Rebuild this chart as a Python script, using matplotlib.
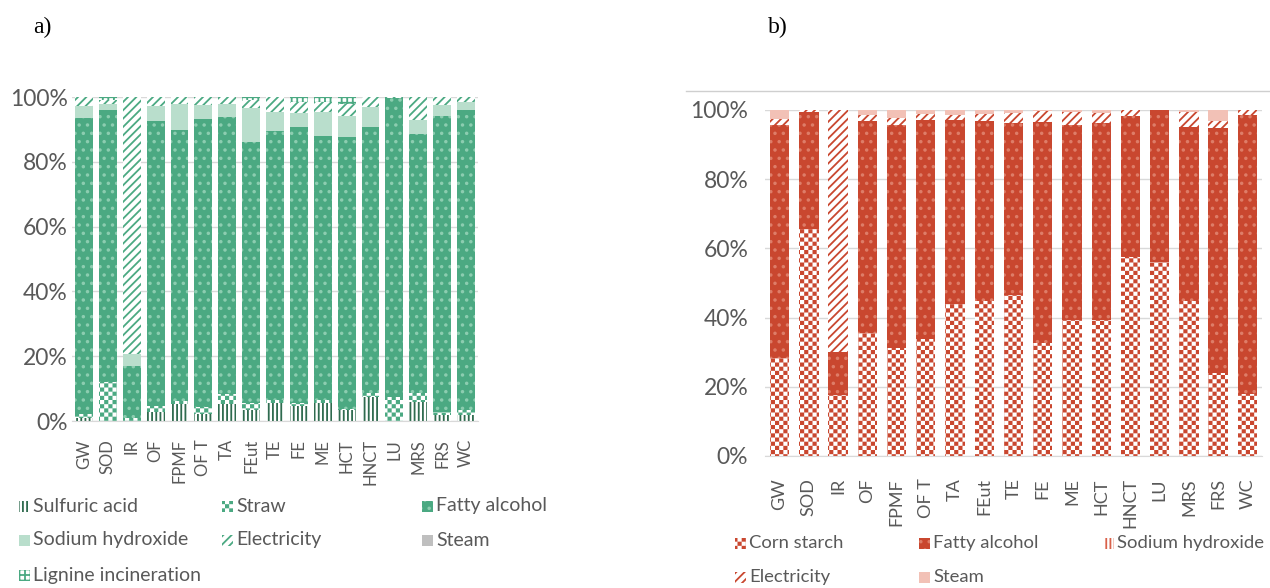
import numpy as np
import matplotlib
matplotlib.use("Agg")
import matplotlib.pyplot as plt
import matplotlib.hatch as mhatch
from matplotlib.path import Path
from matplotlib.patches import Rectangle
from matplotlib.lines import Line2D

# ---------------- data ----------------
categories = ["GW", "SOD", "IR", "OF", "FPMF", "OF T", "TA", "FEut", "TE",
              "FE", "ME", "HCT", "HNCT", "LU", "MRS", "FRS", "WC"]
ytick_values = [0, 20, 40, 60, 80, 100]
ytick_labels = ["0%", "20%", "40%", "60%", "80%", "100%"]

# panel a) (percent shares, bottom to top)
a_sulfuric = [1.0, 0, 0, 2.8, 5.3, 2.3, 5.3, 3.3, 5.5, 4.5, 5.5, 3.3, 7.4, 0, 5.8, 2.0, 1.7]
a_straw = [1.3, 12.0, 1.0, 1.7, 0.9, 2.0, 2.9, 2.2, 0.9, 1.0, 1.0, 0.5, 1.2, 7.4, 2.8, 0.8, 1.6]
a_fatty = [91.2, 84.1, 16.1, 88.0, 83.5, 88.9, 85.7, 80.7, 83.1, 85.3, 81.4, 83.8, 82.2, 92.3, 80.0, 91.3, 92.8]
a_naoh = [3.8, 1.6, 3.6, 4.6, 8.0, 4.3, 4.0, 10.4, 5.8, 4.3, 7.4, 6.6, 6.0, 0, 4.4, 3.3, 2.4]
a_electricity = [2.7, 1.3, 79.3, 2.9, 2.3, 2.5, 2.1, 2.4, 4.7, 3.4, 3.1, 3.5, 3.2, 0.3, 7.0, 2.6, 1.5]
a_steam = [0] * 17
a_lignine = [0, 1.0, 0, 0, 0, 0, 0, 1.0, 0, 1.5, 1.6, 2.3, 0, 0, 0, 0, 0]

# panel b)
b_corn = [28.3, 65.7, 17.7, 35.5, 31.2, 33.8, 43.8, 44.9, 46.4, 32.6, 39.4, 39.4, 57.6, 56.0, 44.9, 23.9, 17.9]
b_fatty = [67.4, 33.8, 12.4, 61.4, 64.5, 63.3, 53.3, 51.9, 49.7, 63.8, 56.4, 56.7, 40.8, 44.0, 50.1, 70.8, 80.7]
b_naoh = [0] * 17
b_electricity = [1.7, 0.5, 69.9, 1.7, 2.1, 1.6, 1.5, 2.0, 2.9, 3.3, 3.7, 2.9, 1.6, 0, 4.5, 2.1, 1.4]
b_steam = [2.6, 0, 0, 1.4, 2.2, 1.3, 1.4, 1.2, 1.0, 0.3, 0.5, 1.0, 0, 0, 0.5, 3.2, 0]

# ---------------- custom checker hatch (uses 'O') ----------------
HATCH_LW = 1.3
plt.rcParams["hatch.linewidth"] = HATCH_LW


class CheckerHatch(mhatch.HatchPatternBase):
    def __init__(self, hatch, density):
        n = hatch.count("O") * density
        if n % 2:
            n += 1
        self.n = n
        self.cells = [(i, j) for i in range(n) for j in range(n) if (i + j) % 2 == 0] if n else []
        self.num_vertices = 5 * len(self.cells)

    def set_vertices_and_codes(self, vertices, codes):
        s = 1.0 / self.n
        inset = HATCH_LW / 72.0 / 2.0
        k = 0
        for i, j in self.cells:
            x0, y0 = i * s + inset, j * s + inset
            x1, y1 = (i + 1) * s - inset, (j + 1) * s - inset
            vertices[k:k + 5] = [(x0, y0), (x1, y0), (x1, y1), (x0, y1), (x0, y0)]
            codes[k:k + 5] = [Path.MOVETO, Path.LINETO, Path.LINETO, Path.LINETO, Path.CLOSEPOLY]
            k += 5


mhatch._hatch_types = [t for t in mhatch._hatch_types if t is not mhatch.LargeCircles] + [CheckerHatch]

# ---------------- styles ----------------
GREEN = "#4BA982"
RED = "#C9472F"
TXT = "#595959"
GRID = "#D9D9D9"

a_series = [
    ("Sulfuric acid", a_sulfuric, dict(facecolor="white", edgecolor="#2F6B4F", hatch="||||")),
    ("Straw", a_straw, dict(facecolor="white", edgecolor=GREEN, hatch="OOOO")),
    ("Fatty alcohol", a_fatty, dict(facecolor=GREEN, edgecolor="#8CCDB0", hatch="..")),
    ("Sodium hydroxide", a_naoh, dict(facecolor="#B9DECC", edgecolor="#B9DECC", hatch=None)),
    ("Electricity", a_electricity, dict(facecolor="white", edgecolor=GREEN, hatch="////")),
    ("Steam", a_steam, dict(facecolor="#BFBFBF", edgecolor="#BFBFBF", hatch=None)),
    ("Lignine incineration", a_lignine, dict(facecolor="white", edgecolor=GREEN, hatch="+++")),
]
b_series = [
    ("Corn starch", b_corn, dict(facecolor="white", edgecolor=RED, hatch="OOOO")),
    ("Fatty alcohol", b_fatty, dict(facecolor=RED, edgecolor="#DE7D68", hatch="..")),
    ("Sodium hydroxide", b_naoh, dict(facecolor="white", edgecolor="#D9614A", hatch="||||")),
    ("Electricity", b_electricity, dict(facecolor="white", edgecolor=RED, hatch="////")),
    ("Steam", b_steam, dict(facecolor="#F2C1B6", edgecolor="#F2C1B6", hatch=None)),
]

W, H = 1270, 588
fig = plt.figure(figsize=(W / 100, H / 100), dpi=100)
FONT = "Lato"


def fx(px):
    return px / W


def fy(py):
    return 1 - py / H


def make_axes(x0, x1, ytop, ybot):
    return fig.add_axes([fx(x0), fy(ybot), fx(x1) - fx(x0), fy(ytop) - fy(ybot)])


def draw_panel(ax, series, width, label_pad, xfs, ypad):
    x = np.arange(len(categories))
    bottom = np.zeros(len(categories))
    for name, vals, st in series:
        v = np.array(vals, dtype=float)
        ax.bar(x, v, width, bottom=bottom, linewidth=0, **st)
        bottom += v
    ax.set_xlim(-0.5, len(categories) - 0.5)
    ax.set_ylim(0, 100)
    ax.set_yticks(ytick_values)
    ax.set_yticklabels(ytick_labels, fontsize=16.5, color=TXT, family=FONT)
    ax.set_xticks(x)
    ax.set_xticklabels(categories, rotation=90, fontsize=xfs, color=TXT, family=FONT)
    ax.tick_params(axis="both", length=0)
    ax.tick_params(axis="x", pad=label_pad)
    ax.tick_params(axis="y", pad=ypad)
    ax.grid(axis="y", color=GRID, linewidth=1)
    ax.set_axisbelow(True)
    for s in ["top", "right", "left"]:
        ax.spines[s].set_visible(False)
    ax.spines["bottom"].set_color(GRID)


ax_a = make_axes(72, 478, 97, 421)
draw_panel(ax_a, a_series, 0.75, 13, 12, 3)
ax_b = make_axes(765, 1262, 110, 456)
draw_panel(ax_b, b_series, 0.66, 16, 13, 12)

# top border line of panel b chart area
fig.add_artist(Line2D([fx(686), fx(1270)], [fy(91), fy(91)], color="#CFCFCF", linewidth=1,
                      transform=fig.transFigure))

# panel letters
fig.text(fx(33), fy(27), "a)", fontsize=17, family="Liberation Serif", va="center", ha="left")
fig.text(fx(768), fy(27), "b)", fontsize=17, family="Liberation Serif", va="center", ha="left")


def legend_entry(xm, yc, label, st, fs):
    size = 11
    rect = Rectangle((fx(xm), fy(yc + size / 2)), size / W, size / H, transform=fig.transFigure,
                     linewidth=0, **st)
    fig.add_artist(rect)
    fig.text(fx(xm + 14), fy(yc), label, fontsize=fs, color=TXT, family=FONT, va="center", ha="left")


a_pos = [(19, 506), (222, 506), (422, 506), (19, 540), (222, 540), (422, 540), (19, 575)]
for (name, _, st), (xm, yc) in zip(a_series, a_pos):
    legend_entry(xm, yc, name, st, 14)

b_pos = [(735, 543), (919, 543), (1103, 543), (735, 577), (919, 577)]
for (name, _, st), (xm, yc) in zip(b_series, b_pos):
    legend_entry(xm, yc, name, st, 13.3)

fig.savefig("out.png", dpi=100)
